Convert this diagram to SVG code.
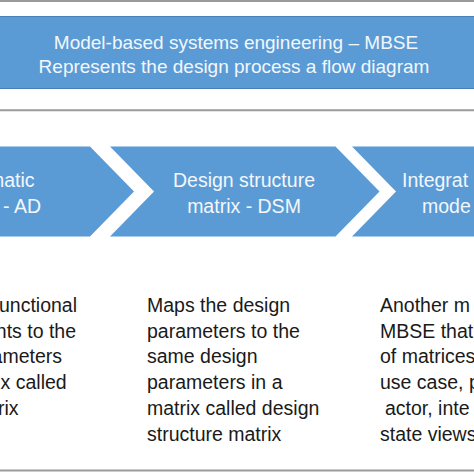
<svg xmlns="http://www.w3.org/2000/svg" width="474" height="474" viewBox="0 0 474 474">
<style>
.rule{stroke:#9a9a9a;stroke-width:2;fill:none}
.blue{fill:#5b9bd5}
.bar{fill:#5b9bd5;stroke:#4a7fb8;stroke-width:1}
.wt{font-family:"Liberation Sans",Arial,sans-serif;fill:#f2f7fc}
.bt{font-family:"Liberation Sans",Arial,sans-serif;fill:#1a1a1a;font-size:19.5px}
</style>
<rect x="0" y="0" width="474" height="474" fill="#ffffff"/>
<g id="rules">
<line class="rule" x1="0" y1="1" x2="474" y2="1"/>
<line class="rule" x1="0" y1="110.3" x2="474" y2="110.3"/>
<line class="rule" x1="0" y1="470.5" x2="474" y2="470.5"/>
</g>
<g id="mbse-bar">
<rect class="bar" x="-2" y="16.5" width="478" height="72"/>
<text class="wt" font-size="19" text-anchor="middle" x="236" y="48.5">Model-based systems engineering – MBSE</text>
<text class="wt" font-size="19" text-anchor="middle" x="234" y="73">Represents the design process a flow diagram</text>
</g>
<g id="connectors"></g>
<g id="chevron-ad">
<polygon class="blue" points="-200,146.5 90,146.5 134,191.5 90,236.5 -200,236.5"/>
<text class="wt" font-size="19.5" text-anchor="end" x="34.5" y="186.7">matic</text>
<text class="wt" font-size="19.5" text-anchor="end" x="41" y="213">- AD</text>
</g>
<g id="chevron-dsm">
<polygon class="blue" points="110,146.5 335.5,146.5 379.5,191.5 335.5,236.5 110,236.5 154,191.5"/>
<text class="wt" font-size="19.5" text-anchor="middle" x="244" y="186.7">Design structure</text>
<text class="wt" font-size="19.5" text-anchor="middle" x="244" y="213">matrix - DSM</text>
</g>
<g id="chevron-integrated">
<polygon class="blue" points="352,146.5 600,146.5 600,236.5 352,236.5 396,191.5"/>
<text class="wt" font-size="19.5" x="402" y="186.7">Integrat</text>
<text class="wt" font-size="19.5" x="422" y="213">mode</text>
</g>
<g id="desc-ad">
<text class="bt" text-anchor="end" x="77" y="311.7">unctional</text>
<text class="bt" text-anchor="end" x="76" y="337.5">nts to the</text>
<text class="bt" text-anchor="end" x="62" y="363.3">ameters</text>
<text class="bt" text-anchor="end" x="66.7" y="389">ix called</text>
<text class="bt" text-anchor="end" x="18.5" y="414.9">rix</text>
</g>
<g id="desc-dsm">
<text class="bt" x="147" y="311.7">Maps the design</text>
<text class="bt" x="147" y="337.5">parameters to the</text>
<text class="bt" x="147" y="363.3">same design</text>
<text class="bt" x="147" y="389">parameters in a</text>
<text class="bt" x="147" y="414.9">matrix called design</text>
<text class="bt" x="147" y="440.7">structure matrix</text>
</g>
<g id="desc-integrated">
<text class="bt" x="380" y="311.7">Another m</text>
<text class="bt" x="380" y="337.5">MBSE that</text>
<text class="bt" x="380" y="363.3">of matrices</text>
<text class="bt" x="380" y="389">use case, p</text>
<text class="bt" x="385" y="414.9">actor, inte</text>
<text class="bt" x="380" y="440.7">state views</text>
</g>
</svg>
